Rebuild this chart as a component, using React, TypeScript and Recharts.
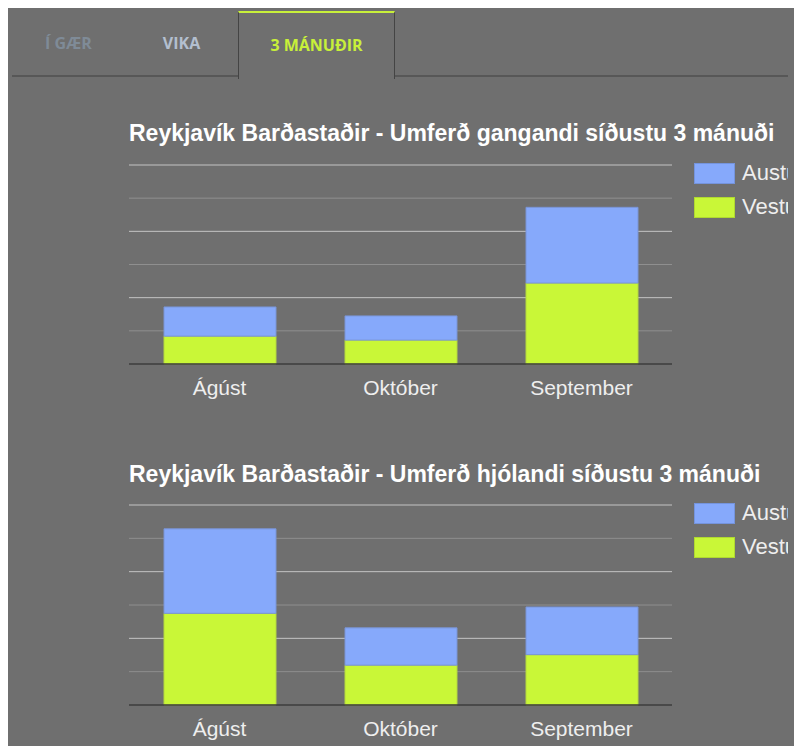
import { BarChart, Bar, XAxis, YAxis, CartesianGrid, Legend } from 'recharts';

const months = ['Ágúst', 'Október', 'September'];
const seriesNames = ['Vestur', 'Austur'];
const seriesColors = ['#c9f737', '#86a9fb'];
const seriesStrokes = ['#b4d840', '#7a95d6'];

const walkWest = [420, 360, 1220];
const walkEast = [440, 365, 1142];
const bikeWest = [1375, 598, 755];
const bikeEast = [1268, 559, 715];

const majorTicks = [1000, 2000, 3000];
const minorTicks = [500, 1500, 2500];

const tabs = ['Í GÆR', 'VIKA', '3 MÁNUÐIR'];
const tabColors = ['#7f8b97', '#b3bfcf', '#c8f03a'];

const walkData = months.map((m, i) => ({ month: m, Vestur: walkWest[i], Austur: walkEast[i] }));
const bikeData = months.map((m, i) => ({ month: m, Vestur: bikeWest[i], Austur: bikeEast[i] }));

const fontFamily = '"Liberation Sans", Arial, sans-serif';

// legend lists Austur above Vestur
function LegendBox({ payload }: any) {
  const items = [...(payload || [])].sort((a: any, b: any) =>
    seriesNames.indexOf(b.value) - seriesNames.indexOf(a.value)
  );
  return (
    <div style={{ fontFamily, whiteSpace: 'nowrap' }}>
      {items.map((item: any) => (
        <div key={item.value} style={{ display: 'flex', alignItems: 'center', height: 34 }}>
          <span
            style={{
              display: 'inline-block',
              width: 39,
              height: 19,
              background: item.color,
              border: '1px solid rgba(0,0,0,0.12)',
              marginRight: 7,
            }}
          />
          <span style={{ color: '#eeeeee', fontSize: 22 }}>{item.value}</span>
        </div>
      ))}
    </div>
  );
}

function TrafficChart({ data, bottom }: { data: any[]; bottom: number }) {
  return (
    <BarChart
      width={776}
      height={260}
      data={data}
      margin={{ top: 15, right: 116, left: 117, bottom }}
    >
      <CartesianGrid vertical={false} horizontalValues={minorTicks} stroke="#8f8f8f" strokeWidth={1} />
      <CartesianGrid vertical={false} horizontalValues={majorTicks} stroke="#c4c4c4" strokeWidth={1} />
      <XAxis
        dataKey="month"
        height={30}
        axisLine={{ stroke: '#3c3c3c', strokeWidth: 1.5 }}
        tickLine={false}
        tickSize={0}
        tickMargin={16}
        tick={{ fill: '#eeeeee', fontSize: 21, fontFamily }}
      />
      <YAxis hide domain={[0, 3000]} ticks={[0, ...minorTicks, ...majorTicks]} />
      <Legend
        layout="vertical"
        align="center"
        verticalAlign="middle"
        wrapperStyle={{ left: 682, top: 6, width: 150 }}
        content={<LegendBox />}
      />
      {seriesNames.map((name, i) => (
        <Bar
          key={name}
          dataKey={name}
          stackId="a"
          barSize={112}
          fill={seriesColors[i]}
          stroke={seriesStrokes[i]}
          strokeWidth={1}
          isAnimationActive={false}
        />
      ))}
    </BarChart>
  );
}

const titleStyle: any = {
  position: 'absolute',
  left: 117,
  fontFamily,
  fontWeight: 700,
  fontSize: 23,
  color: '#ffffff',
  whiteSpace: 'nowrap',
};

export default function App() {
  return (
    <div style={{ width: 794, height: 738, background: '#6f6f6f', position: 'relative', overflow: 'hidden' }}>
      <div style={{ position: 'absolute', left: 4, top: 0, width: 776, height: 738, overflow: 'hidden' }}>
        {/* tab strip */}
        <div style={{ position: 'absolute', left: 0, top: 67, width: 776, height: 2, background: '#575757' }} />
        {tabs.map((t, i) => {
          const active = i === 2;
          const left = i === 0 ? 0 : i === 1 ? 113 : 226;
          const width = active ? 157 : 113;
          return (
            <div
              key={t}
              style={{
                position: 'absolute',
                left,
                top: 3,
                width: active ? width - 2 : width,
                height: 64,
                boxSizing: 'content-box',
                background: '#6f6f6f',
                borderTop: active ? '2px solid #c8f03a' : 'none',
                borderLeft: active ? '1px solid #444' : 'none',
                borderRight: active ? '1px solid #444' : 'none',
                display: 'flex',
                alignItems: 'center',
                justifyContent: 'center',
                color: tabColors[i],
                fontFamily: '"Open Sans", sans-serif',
                fontWeight: 700,
                fontSize: 16,
                paddingBottom: active ? 2 : 0,
              }}
            >
              {t}
            </div>
          );
        })}

        <div style={{ ...titleStyle, top: 112 }}>
          Reykjavík Barðastaðir - Umferð gangandi síðustu 3 mánuði
        </div>
        <div style={{ position: 'absolute', left: 0, top: 142 }}>
          <TrafficChart data={walkData} bottom={16} />
        </div>

        <div style={{ ...titleStyle, top: 453 }}>
          Reykjavík Barðastaðir - Umferð hjólandi síðustu 3 mánuði
        </div>
        <div style={{ position: 'absolute', left: 0, top: 482 }}>
          <TrafficChart data={bikeData} bottom={15} />
        </div>
      </div>
    </div>
  );
}
